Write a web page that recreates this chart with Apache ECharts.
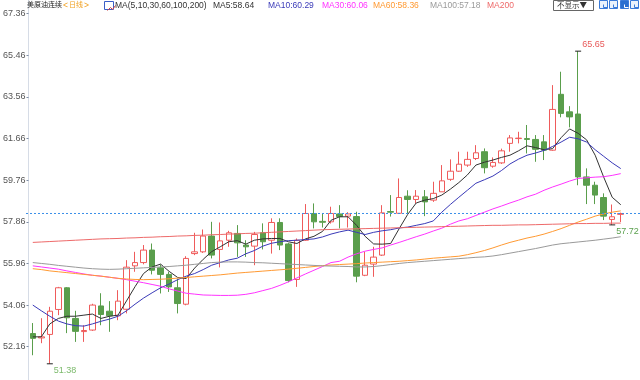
<!DOCTYPE html>
<html><head><meta charset="utf-8">
<script src="https://cdn.jsdelivr.net/npm/echarts@6/dist/echarts.min.js"></script>
<style>html,body{margin:0;padding:0;background:#fff}#c{width:640px;height:380px}</style>
</head><body><div id="c"></div>
<script>
// ---- data (daily candles, oldest first) ----
const opens  = [52.76,52.56,52.72,53.86,54.85,53.45,52.85,52.92,54.02,53.78,53.57,53.87,55.85,56.00,56.57,55.76,55.46,54.85,54.10,56.41,56.49,57.21,56.60,57.02,57.33,56.80,56.75,57.36,57.02,57.83,56.85,55.23,57.02,58.24,57.88,57.86,58.22,58.12,58.10,55.42,55.93,56.34,58.33,58.25,59.03,58.88,59.00,58.85,59.23,59.80,60.17,60.45,60.75,61.06,60.40,60.55,61.44,61.66,61.66,61.62,61.51,61.13,63.68,62.88,62.78,59.91,59.53,58.97,57.97,58.20];
const closes = [52.54,52.61,53.78,54.85,53.48,52.86,52.90,54.06,53.63,53.57,54.24,55.79,56.00,56.57,55.65,55.46,54.89,54.13,56.19,56.49,57.21,56.34,56.99,57.36,56.90,56.72,57.28,56.95,57.83,56.80,55.18,57.02,58.24,57.86,57.84,58.24,58.10,58.22,55.38,55.88,56.25,58.27,58.30,58.97,58.88,59.03,58.77,59.16,59.73,60.17,60.49,60.71,61.01,60.33,60.57,61.10,61.69,61.68,61.62,61.17,61.13,62.99,62.81,62.65,59.91,59.53,59.08,58.12,58.09,58.24];
const lows   = [51.77,52.32,51.38,53.60,52.78,52.38,52.38,52.88,53.14,52.84,53.37,53.68,55.58,55.92,55.46,54.59,54.66,53.68,54.05,56.34,56.44,56.19,55.78,56.72,56.26,56.26,55.88,56.60,56.41,56.57,55.10,54.89,56.99,57.56,57.60,57.78,57.56,57.60,55.10,55.38,55.35,56.30,58.10,58.22,58.25,58.70,58.12,58.77,59.23,59.73,60.14,60.37,60.68,60.07,60.33,60.50,61.06,61.44,60.98,60.60,60.68,61.10,62.63,62.17,59.53,58.67,58.67,57.94,57.72,57.85];
const highs  = [53.24,53.46,53.98,54.89,54.88,53.80,53.14,54.12,54.60,54.24,54.74,56.11,56.49,56.80,56.87,55.91,55.58,55.27,56.29,57.36,57.51,57.86,57.83,57.45,57.71,57.02,57.40,57.79,58.02,58.02,56.90,57.10,58.67,58.70,58.24,58.55,58.62,58.30,58.32,56.49,56.72,58.62,59.08,59.84,59.30,59.31,59.31,59.69,60.45,60.71,61.06,61.06,61.36,61.21,60.80,61.20,61.82,61.97,62.28,61.82,61.82,64.10,64.71,63.14,65.65,60.30,59.69,59.16,58.65,58.28];

const ma5   = [52.61,52.61,53.20,53.45,53.55,53.55,53.60,53.65,53.45,53.55,53.60,54.25,54.90,55.50,55.80,55.93,55.60,55.32,55.27,55.75,56.15,56.50,56.72,56.95,57.00,56.84,57.02,57.08,57.10,57.10,56.95,56.87,57.08,57.20,57.42,57.93,58.09,58.09,57.70,57.20,56.85,56.84,56.87,57.55,58.20,58.72,58.85,58.92,59.08,59.35,59.65,60.00,60.45,60.58,60.68,60.80,60.90,61.10,61.33,61.25,61.15,61.20,61.70,62.10,61.90,61.60,60.90,59.90,58.98,58.64];
const ma10  = [54.06,53.80,53.55,53.33,53.20,53.12,53.10,53.20,53.32,53.42,53.55,53.80,54.10,54.38,54.62,54.85,55.02,55.22,55.38,55.50,55.68,55.88,56.00,56.12,56.20,56.40,56.55,56.75,56.88,56.95,57.00,57.02,57.05,57.08,57.17,57.30,57.40,57.48,57.38,57.28,57.38,57.45,57.50,57.58,57.62,57.70,57.78,57.90,58.30,58.65,58.98,59.30,59.62,59.78,59.95,60.20,60.50,60.72,60.90,61.00,61.12,61.30,61.50,61.72,61.65,61.50,61.15,60.85,60.55,60.29];
const ma30  = [55.85,55.80,55.75,55.70,55.62,55.55,55.48,55.42,55.38,55.33,55.28,55.22,55.15,55.08,55.00,54.92,54.80,54.70,54.60,54.56,54.52,54.51,54.50,54.50,54.51,54.55,54.62,54.72,54.82,54.96,55.12,55.30,55.48,55.65,55.82,56.00,56.06,56.25,56.40,56.52,56.60,56.67,56.80,56.92,57.05,57.18,57.30,57.44,57.57,57.75,57.90,58.00,58.15,58.30,58.45,58.58,58.72,58.85,59.00,59.12,59.30,59.45,59.58,59.72,59.84,59.87,59.90,59.92,59.98,60.06];
const ma60  = [55.72,55.68,55.62,55.58,55.54,55.50,55.46,55.42,55.38,55.33,55.28,55.25,55.23,55.22,55.23,55.24,55.26,55.29,55.32,55.35,55.38,55.41,55.44,55.48,55.52,55.55,55.58,55.61,55.64,55.67,55.70,55.74,55.78,55.82,55.86,55.89,55.91,55.93,55.95,55.98,56.00,56.02,56.04,56.06,56.09,56.12,56.16,56.20,56.23,56.26,56.29,56.36,56.45,56.55,56.67,56.80,56.92,57.02,57.12,57.20,57.30,57.42,57.55,57.70,57.85,57.98,58.12,58.22,58.30,58.36];
const ma100 = [56.00,55.96,55.92,55.87,55.83,55.79,55.75,55.72,55.70,55.69,55.70,55.72,55.74,55.76,55.78,55.80,55.82,55.85,55.88,55.92,55.96,56.00,56.02,56.03,56.03,56.02,56.00,55.99,55.97,55.95,55.93,55.91,55.89,55.87,55.85,55.84,55.83,55.82,55.80,55.80,55.82,55.86,55.91,55.96,56.00,56.03,56.06,56.09,56.12,56.15,56.18,56.21,56.24,56.26,56.30,56.36,56.43,56.50,56.57,56.64,56.72,56.80,56.86,56.90,56.94,56.98,57.02,57.07,57.12,57.18];
const ma200 = [56.92,56.94,56.96,56.98,57.00,57.02,57.04,57.06,57.08,57.09,57.10,57.12,57.13,57.15,57.16,57.18,57.19,57.21,57.22,57.24,57.25,57.27,57.28,57.30,57.31,57.33,57.34,57.36,57.38,57.40,57.42,57.44,57.46,57.48,57.50,57.51,57.52,57.53,57.54,57.55,57.56,57.57,57.58,57.59,57.60,57.61,57.62,57.63,57.64,57.65,57.66,57.67,57.68,57.69,57.70,57.70,57.71,57.72,57.72,57.73,57.74,57.75,57.76,57.77,57.78,57.78,57.79,57.79,57.80,57.80];

const yTicks = [52.16,54.06,55.96,57.86,59.76,61.66,63.56,65.46,67.36];
const maNames = ['MA5','MA10','MA30','MA60','MA100','MA200'];
const maLast  = ['58.64','60.29','60.06','58.36','57.18',''];
const lastPrice = 58.24;
const highMarks = [64];      // candle index with labelled high
const lowMarks  = [2, 68];   // candle indices with labelled lows

// ---- presentation ----
const maSeries = [ma5, ma10, ma30, ma60, ma100, ma200];
const maColors = ['#333333','#3a3ab8','#ff33ff','#ff9a33','#9a9a9a','#ee6a6a'];
const RED = '#ef5b5b', GREEN = '#5a9e4c';
const cats = opens.map((_, i) => String(i + 1));
const yMin = 50.64, yMax = 67.985;
const FONT = 'Liberation Sans, Arial, sans-serif';
const CJK = 'Noto Sans CJK SC';

const markData = [];
highMarks.forEach(i => markData.push({coord:[i, highs[i]], value: highs[i].toFixed(2),
  label:{color:'#e85a5a', offset:[-4,-7]}}));
lowMarks.forEach(i => markData.push({coord:[i, lows[i]], value: lows[i].toFixed(2),
  label:{color: i === 2 ? '#7cba6c' : '#5aa04e', offset:[-4,7]}}));

const series = [{
  type:'candlestick', xAxisIndex:0, yAxisIndex:0,
  data: opens.map((o, i) => [o, closes[i], lows[i], highs[i]]),
  barWidth: 6,
  itemStyle:{color:'#ffffff', color0:GREEN, borderColor:RED, borderColor0:GREEN, borderWidth:1},
  markPoint:{
    symbol:'rect', symbolSize:[6,1], itemStyle:{color:'#222'}, silent:true,
    label:{show:true, position:'right', fontSize:9, fontFamily:FONT, formatter: p => p.value},
    data: markData
  }
}];
maSeries.forEach((d, k) => series.push({
  type:'line', name:maNames[k], data:d, xAxisIndex:0, yAxisIndex:0,
  symbol:'none', smooth:false, lineStyle:{width:1, color:maColors[k]}, z:3
}));
// last-price dashed line across the full width
series.push({
  type:'line', xAxisIndex:1, yAxisIndex:1, data:[[0,lastPrice],[1,lastPrice]],
  symbol:'none', lineStyle:{width:1, color:'#3b8fe8', type:[2,2]}, z:4
});

// header legend texts
const g = [];
function txt(x, t, color, size, fam) {
  g.push({type:'text', left:x, top:1, style:{text:t, fill:color, fontSize:size||8.5, fontFamily:fam||FONT}, z:10});
}
txt(27, '美原油连续', '#222', 7, CJK);
txt(63, '<', '#f0a020', 8.5);
txt(69, '日线', '#f0a020', 7, CJK);
txt(84, '>', '#f0a020', 8.5);
g.push({type:'rect', left:104, top:1, shape:{width:9, height:8}, style:{fill:'#fff', stroke:'#3a5fc8', lineWidth:1}, z:10});
g.push({type:'polyline', left:105, top:3, shape:{points:[[0,5],[3,2],[5,4],[8,0]]}, style:{stroke:'#d04040', lineWidth:1, fill:null}, z:10});
txt(115, 'MA(5,10,30,60,100,200)', '#333');
const maX = [213, 268, 322, 373, 430, 487];
maNames.forEach((n, k) => txt(maX[k], maLast[k] ? n + ':' + maLast[k] : n, maColors[k]));
g.push({type:'rect', left:553, top:0, shape:{width:40, height:10}, style:{fill:'#fff', stroke:'#666', lineWidth:1}, z:10});
g.push({type:'text', left:557, top:1, style:{text:'不显示▼', fill:'#333', fontSize:7.5, fontFamily:CJK}, z:11});
[[599,false],[609,false],[620,true],[630,false]].forEach(([x, filled]) => {
  g.push({type:'rect', left:x, top:0, shape:{width:8, height:8},
    style:{fill: filled ? '#2a6fd0' : '#eaf2fc', stroke:'#3a7ad8', lineWidth:1}, z:10});
  g.push({type:'polyline', left:x+2, top:2, shape:{points:[[0,1],[0,4],[4,4]]},
    style:{stroke: filled ? '#fff' : '#3a7ad8', lineWidth:1, fill:null}, z:11});
});

const chart = echarts.init(document.getElementById('c'), null, {renderer:'canvas'});
chart.setOption({
  animation:false,
  backgroundColor:'#fff',
  grid:[{left:26, right:15, top:0, bottom:0}, {left:26, right:0, top:0, bottom:0}],
  xAxis:[
    {type:'category', data:cats, gridIndex:0, boundaryGap:true,
     axisLine:{show:false}, axisTick:{show:false}, axisLabel:{show:false}, splitLine:{show:false}},
    {type:'value', gridIndex:1, min:0, max:1, show:false}
  ],
  yAxis:[
    {type:'value', gridIndex:0, min:yMin, max:yMax,
     axisLine:{show:true, lineStyle:{color:'#d6dce6'}},
     axisTick:{show:true, customValues:yTicks, length:2, lineStyle:{color:'#7d8ca3'}},
     axisLabel:{customValues:yTicks, formatter: v => v.toFixed(2), fontSize:9, color:'#555', margin:3, fontFamily:FONT},
     splitLine:{show:false}},
    {type:'value', gridIndex:1, min:yMin, max:yMax, show:false}
  ],
  series: series,
  graphic: g
});
</script></body></html>
